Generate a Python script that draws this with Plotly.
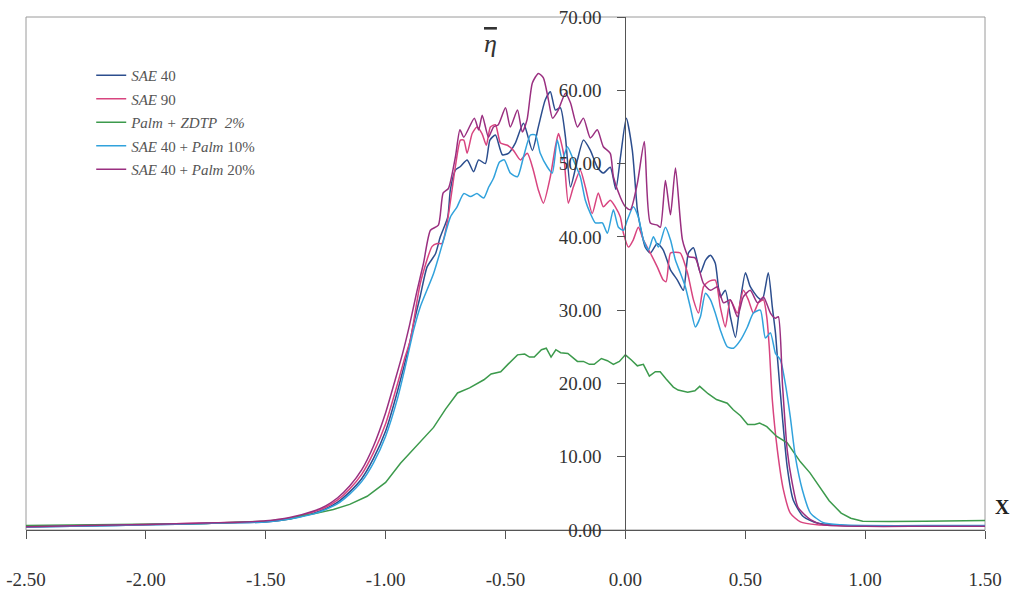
import plotly.graph_objects as go

# ---------------- data ----------------
x_range = [-2.5, 1.5]
y_range = [0, 70]
x_tick_vals = [-2.5, -2.0, -1.5, -1.0, -0.5, 0.0, 0.5, 1.0, 1.5]
x_tick_labels = ["-2.50", "-2.00", "-1.50", "-1.00", "-0.50", "0.00", "0.50", "1.00", "1.50"]
y_tick_vals = [0, 10, 20, 30, 40, 50, 60, 70]
y_tick_labels = ["0.00", "10.00", "20.00", "30.00", "40.00", "50.00", "60.00", "70.00"]

series_names = [
    "<i>SAE</i> 40",
    "<i>SAE</i> 90",
    "<i>Palm + ZDTP</i>  <i>2%</i>",
    "<i>SAE</i> 40 + <i>Palm</i> 10%",
    "<i>SAE</i> 40 + <i>Palm</i> 20%",
]

sae40_x = [-2.5, -2.25, -2.0, -1.75, -1.5, -1.4, -1.3, -1.25, -1.2, -1.15, -1.1, -1.05, -1.0, -0.95,
           -0.9, -0.883, -0.855, -0.827, -0.792, -0.772, -0.741, -0.730, -0.709, -0.688, -0.660, -0.633,
           -0.612, -0.584, -0.565, -0.542, -0.513, -0.488, -0.459, -0.425, -0.388, -0.363, -0.334, -0.313,
           -0.292, -0.271, -0.250, -0.229, -0.200, -0.175, -0.146, -0.117, -0.092, -0.063, -0.040, -0.020,
           0.004, 0.029, 0.050, 0.063, 0.083, 0.104, 0.133, 0.158, 0.188, 0.217, 0.242, 0.263, 0.284,
           0.313, 0.334, 0.355, 0.375, 0.396, 0.417, 0.438, 0.459, 0.480, 0.501, 0.521, 0.551, 0.571,
           0.596, 0.613, 0.626, 0.634, 0.655, 0.675, 0.700, 0.743, 0.800, 0.900, 1.0, 1.25, 1.5]
sae40_y = [0.4, 0.55, 0.7, 0.9, 1.1, 1.5, 2.3, 2.9, 3.8, 5.2, 7.0, 9.8, 13.5, 19.0,
           25.5, 28.2, 32.0, 35.9, 37.7, 40.0, 42.7, 46.4, 49.1, 49.6, 50.5, 48.9,
           50.5, 50.0, 53.2, 53.9, 51.2, 51.4, 52.8, 55.5, 51.8, 55.0, 58.7, 59.8,
           57.3, 57.6, 53.6, 46.8, 50.5, 53.2, 51.8, 49.5, 48.7, 49.5, 46.5, 51.0,
           56.2, 51.8, 43.7, 41.3, 38.6, 37.8, 39.1, 38.2, 35.5, 34.1, 32.7, 37.8, 38.5,
           35.1, 36.8, 37.5, 36.4, 31.8, 32.7, 29.1, 26.3, 31.4, 35.1, 33.2, 31.8, 31.4,
           35.1, 30.4, 26.9, 23.6, 15.4, 8.6, 4.1, 1.8, 0.95, 0.6, 0.55, 0.55, 0.55]

sae90_x = [-2.5, -2.25, -2.0, -1.75, -1.5, -1.4, -1.3, -1.25, -1.2, -1.15, -1.1, -1.05, -1.0, -0.95,
           -0.92, -0.897, -0.855, -0.806, -0.785, -0.765, -0.744, -0.723, -0.709, -0.688, -0.674, -0.660,
           -0.639, -0.619, -0.598, -0.580, -0.563, -0.542, -0.521, -0.492, -0.467, -0.438, -0.409, -0.384,
           -0.363, -0.342, -0.313, -0.292, -0.279, -0.258, -0.238, -0.217, -0.188, -0.167, -0.138, -0.113,
           -0.092, -0.063, -0.042, -0.021, -0.008, 0.013, 0.033, 0.054, 0.075, 0.104, 0.133, 0.158, 0.170,
           0.188, 0.209, 0.229, 0.259, 0.284, 0.305, 0.326, 0.347, 0.375, 0.396, 0.417, 0.438, 0.467,
           0.492, 0.513, 0.534, 0.555, 0.576, 0.590, 0.600, 0.613, 0.634, 0.659, 0.688, 0.730, 0.800,
           1.0, 1.25, 1.5]
sae90_y = [0.45, 0.6, 0.75, 0.95, 1.2, 1.6, 2.5, 3.1, 4.1, 5.6, 7.6, 10.6, 14.5, 20.0,
           23.5, 25.9, 33.7, 38.7, 39.1, 39.1, 41.8, 46.4, 49.6, 53.2, 53.2, 51.4,
           54.1, 55.0, 54.1, 52.5, 55.0, 55.3, 52.8, 52.5, 51.8, 50.5, 51.4, 49.1,
           46.4, 44.6, 48.2, 52.3, 54.1, 51.4, 44.6, 46.8, 49.1, 46.8, 43.2, 46.0,
           44.1, 45.0, 44.1, 42.7, 40.5, 38.6, 39.6, 41.3, 39.6, 37.8, 35.9, 34.1, 33.9,
           37.8, 37.9, 37.8, 35.1, 31.4, 29.6, 33.2, 33.9, 34.1, 30.4, 27.7, 31.4, 29.6,
           32.7, 31.4, 29.6, 31.0, 31.4, 29.0, 25.0, 17.7, 10.9, 5.5, 2.3, 1.1, 0.7,
           0.55, 0.55, 0.55]

palm_zdtp_x = [-2.5, -2.0, -1.75, -1.5, -1.4, -1.356, -1.3, -1.218, -1.15, -1.077, -1.0, -0.938,
               -0.87, -0.80, -0.75, -0.70, -0.65, -0.59, -0.56, -0.52, -0.49, -0.45, -0.42, -0.40,
               -0.38, -0.35, -0.33, -0.31, -0.29, -0.27, -0.24, -0.22, -0.20, -0.175, -0.15, -0.13,
               -0.10, -0.075, -0.05, -0.025, 0.0, 0.025, 0.05, 0.075, 0.10, 0.125, 0.145, 0.17,
               0.20, 0.22, 0.26, 0.29, 0.31, 0.345, 0.38, 0.425, 0.45, 0.48, 0.51, 0.54, 0.56,
               0.59, 0.63, 0.675, 0.73, 0.77, 0.80, 0.85, 0.90, 0.94, 0.99, 1.1, 1.25, 1.5]
palm_zdtp_y = [0.6, 0.8, 0.9, 1.2, 1.5, 1.9, 2.2, 2.8, 3.5, 4.6, 6.5, 9.1,
               11.5, 14.0, 16.5, 18.7, 19.4, 20.5, 21.3, 21.6, 22.6, 23.9, 24.0, 23.6,
               23.6, 24.6, 24.8, 23.6, 24.6, 24.2, 24.1, 23.6, 23.0, 23.0, 22.6, 22.6,
               23.4, 23.1, 22.6, 23.0, 23.9, 23.2, 22.4, 22.6, 21.0, 21.6, 21.6, 20.6,
               19.5, 19.1, 18.8, 19.0, 19.6, 18.6, 17.8, 17.3, 16.4, 15.6, 14.4, 14.4, 14.6,
               14.1, 12.8, 11.9, 9.3, 7.8, 6.4, 4.0, 2.3, 1.6, 1.2, 1.15, 1.2, 1.3]

palm10_x = [-2.5, -2.25, -2.0, -1.75, -1.5, -1.4, -1.3, -1.25, -1.2, -1.15, -1.1, -1.05, -1.0, -0.95,
            -0.92, -0.883, -0.855, -0.800, -0.758, -0.730, -0.702, -0.674, -0.646, -0.619, -0.591,
            -0.570, -0.550, -0.525, -0.505, -0.480, -0.450, -0.425, -0.396, -0.375, -0.355, -0.325,
            -0.305, -0.284, -0.263, -0.242, -0.217, -0.188, -0.167, -0.146, -0.125, -0.096, -0.075,
            -0.050, -0.029, -0.008, 0.008, 0.033, 0.054, 0.075, 0.096, 0.117, 0.138, 0.167, 0.188,
            0.209, 0.229, 0.250, 0.271, 0.292, 0.313, 0.334, 0.355, 0.375, 0.396, 0.425, 0.451, 0.480,
            0.509, 0.534, 0.563, 0.584, 0.605, 0.626, 0.647, 0.667, 0.688, 0.709, 0.738, 0.772, 0.826,
            0.9, 1.0, 1.25, 1.5]
palm10_y = [0.4, 0.55, 0.7, 0.9, 1.1, 1.5, 2.2, 2.8, 3.6, 4.9, 6.6, 9.2, 12.8, 18.0,
            22.0, 27.3, 30.5, 35.0, 39.6, 42.7, 44.1, 45.9, 45.5, 45.9, 45.3,
            46.8, 48.0, 50.2, 50.5, 48.7, 48.2, 50.9, 53.9, 53.9, 51.4, 49.5,
            48.7, 53.2, 50.5, 52.3, 50.5, 48.2, 45.0, 43.2, 41.9, 41.9, 40.5,
            43.7, 41.3, 40.9, 42.3, 44.1, 42.7, 39.6, 38.2, 40.0, 38.6, 41.3, 39.6,
            36.8, 35.1, 33.2, 30.4, 27.7, 29.1, 32.3, 31.4, 29.6, 27.3, 25.0, 24.8, 25.9,
            27.7, 29.6, 30.0, 26.2, 26.9, 24.1, 23.2, 20.0, 15.4, 10.0, 5.5, 2.3, 1.0,
            0.7, 0.6, 0.6, 0.6]

palm20_x = [-2.5, -2.25, -2.0, -1.75, -1.5, -1.4, -1.3, -1.25, -1.2, -1.15, -1.1, -1.05, -1.0, -0.96,
            -0.93, -0.90, -0.87, -0.842, -0.813, -0.780, -0.760, -0.738, -0.709, -0.690, -0.674, -0.630,
            -0.612, -0.597, -0.571, -0.550, -0.530, -0.500, -0.480, -0.450, -0.430, -0.410, -0.388,
            -0.363, -0.342, -0.321, -0.304, -0.280, -0.250, -0.229, -0.200, -0.175, -0.146, -0.117,
            -0.092, -0.063, -0.050, -0.021, 0.000, 0.021, 0.050, 0.079, 0.104, 0.133, 0.146, 0.167,
            0.188, 0.209, 0.238, 0.263, 0.292, 0.325, 0.355, 0.384, 0.409, 0.438, 0.467, 0.492,
            0.521, 0.551, 0.576, 0.605, 0.626, 0.638, 0.655, 0.675, 0.696, 0.720, 0.772, 0.826,
            1.0, 1.25, 1.5]
palm20_y = [0.45, 0.6, 0.75, 0.95, 1.25, 1.7, 2.6, 3.3, 4.4, 6.0, 8.2, 11.5, 16.0, 20.5,
            24.0, 28.0, 32.5, 36.4, 40.9, 41.6, 46.0, 46.6, 50.9, 54.6, 53.6, 56.2,
            54.6, 56.6, 53.6, 55.0, 55.3, 57.6, 55.0, 57.3, 54.3, 56.0, 61.0,
            62.3, 61.7, 58.7, 56.2, 57.3, 59.6, 58.3, 55.0, 56.2, 53.5, 54.6,
            52.3, 51.4, 48.2, 45.4, 44.1, 43.7, 47.3, 53.0, 41.9, 41.6, 41.3, 47.7,
            43.0, 49.4, 39.6, 37.3, 37.1, 33.7, 32.7, 33.2, 31.0, 31.4, 29.1, 31.8,
            32.7, 31.0, 31.8, 29.6, 28.9, 29.1, 20.0, 10.9, 6.4, 3.1, 1.4, 0.7,
            0.5, 0.5, 0.5]

series_x = [sae40_x, sae90_x, palm_zdtp_x, palm10_x, palm20_x]
series_y = [sae40_y, sae90_y, palm_zdtp_y, palm10_y, palm20_y]
series_colors = ["#2c4e8e", "#d8447f", "#3c9a4c", "#31a2dc", "#9a2f80"]
series_shapes = ["spline", "spline", "linear", "spline", "spline"]

# ---------------- figure ----------------
SERIF = "Liberation Serif"
fig = go.Figure()
for i in range(len(series_names)):
    fig.add_trace(go.Scatter(
        x=series_x[i], y=series_y[i], mode="lines", name=series_names[i],
        legendgroup="g%d" % i,
        line=dict(color=series_colors[i], width=1.5, shape=series_shapes[i], smoothing=0.6),
    ))

yaxis_pos = (0 - x_range[0]) / (x_range[1] - x_range[0])

fig.update_layout(
    width=1021, height=595,
    margin=dict(l=26, r=36, t=17, b=65),
    paper_bgcolor="white", plot_bgcolor="white",
    font=dict(family=SERIF, size=19, color="#333333"),
    showlegend=True,
    legend=dict(
        x=0.068, y=0.918, xanchor="left", yanchor="top",
        font=dict(family=SERIF, size=15, color="#555555"),
        bgcolor="rgba(0,0,0,0)", tracegroupgap=1, traceorder="grouped",
        itemwidth=30,
    ),
    xaxis=dict(
        range=x_range, tickvals=x_tick_vals, ticktext=x_tick_labels,
        ticks="outside", ticklen=8, tickcolor="#555555",
        showline=True, linecolor="#555555", linewidth=1,
        showgrid=False, zeroline=False, ticklabelstandoff=24,
        ticklabeloverflow="allow", automargin=False,
    ),
    yaxis=dict(
        range=y_range, tickvals=y_tick_vals, ticktext=y_tick_labels,
        anchor="free", position=yaxis_pos,
        ticks="outside", ticklen=8, tickcolor="#555555",
        showline=True, linecolor="#555555", linewidth=1,
        showgrid=False, zeroline=False, ticklabelstandoff=12,
        ticklabeloverflow="allow", automargin=False,
    ),
    shapes=[dict(type="rect", xref="paper", yref="paper", x0=0, x1=1, y0=0, y1=1,
                 line=dict(color="#9a9a9a", width=1), layer="below")],
    annotations=[
        dict(text="<span style='text-decoration:overline'><i>\u03b7</i></span>",
             xref="paper", yref="paper", x=0.484, y=0.98,
             showarrow=False, font=dict(family=SERIF, size=26, color="#333333")),
        dict(text="<b>X</b>", xref="paper", yref="paper", x=1.028, y=0.02,
             showarrow=False, font=dict(family=SERIF, size=20, color="#222222")),
    ],
)

# remove the default 8px page margin so the 1021x595 figure fills the window exactly
fig.write_html("out.html",
               config={"displayModeBar": False},
               post_script="document.body.style.margin='0';document.body.style.overflow='hidden';")
